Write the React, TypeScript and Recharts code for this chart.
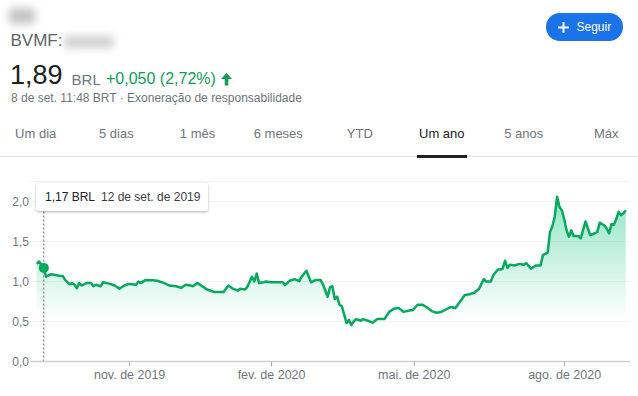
import {
  AreaChart,
  Area,
  XAxis,
  YAxis,
  CartesianGrid,
  ReferenceLine,
  ReferenceDot,
} from "recharts";

// trading-day index since 9 set. 2019 and closing price (BRL)
const days = [
  0, 1, 3, 4, 6, 8, 10, 11, 12, 14, 15, 16, 17, 18, 19, 21, 23, 24, 25, 27, 28, 31, 33, 35, 37, 39, 42, 43, 44, 46,
  49, 51, 54, 56, 59, 61, 63, 65, 66, 68, 70, 72, 75, 77, 79, 81, 83, 85, 86, 88, 89, 91, 92, 93, 94, 96, 97, 99,
  101, 104, 105, 107, 109, 111, 112, 114, 116, 118, 120, 121, 123, 124, 125, 126, 127, 128, 129, 131, 132, 133, 134,
  135, 137, 138, 140, 142, 144, 147, 149, 151, 153, 155, 158, 159, 161, 163, 165, 167, 169, 171, 173, 175, 177, 179,
  181, 183, 185, 187, 189, 190, 192, 193, 195, 196, 197, 198, 199, 200, 202, 204, 206, 207, 209, 211, 213, 214, 216,
  217, 218, 219, 220, 221, 222, 223, 224, 225, 226, 227, 229, 230, 232, 234, 235, 237, 238, 240, 241, 242, 243, 244,
  245, 246, 247, 248, 249,
];

const prices = [
  1.22, 1.25, 1.17, 1.06, 1.09, 1.08, 1.07, 1.07, 1.02, 0.965, 0.98, 0.96, 0.915, 0.98, 0.95, 0.98, 0.98, 0.94, 0.96,
  0.94, 0.99, 0.97, 0.95, 0.91, 0.95, 0.97, 0.96, 1.0, 0.98, 1.02, 1.015, 1.01, 0.98, 0.95, 0.94, 0.92, 0.96, 0.95,
  0.94, 0.98, 0.94, 0.9, 0.87, 0.87, 0.87, 0.95, 0.91, 0.885, 0.91, 0.9, 0.93, 1.06, 1.0, 1.1, 0.98, 0.99, 1.0, 0.99,
  0.99, 0.99, 0.955, 1.01, 1.03, 1.005, 1.06, 1.135, 0.99, 1.02, 1.02, 0.965, 0.81, 0.93, 0.94, 0.78, 0.81, 0.71,
  0.69, 0.48, 0.52, 0.455, 0.5, 0.53, 0.51, 0.53, 0.51, 0.485, 0.53, 0.53, 0.62, 0.66, 0.67, 0.62, 0.64, 0.64, 0.71,
  0.71, 0.675, 0.63, 0.61, 0.62, 0.65, 0.68, 0.67, 0.75, 0.83, 0.84, 0.86, 0.91, 1.03, 1.0, 1.0, 1.08, 1.15, 1.15,
  1.16, 1.26, 1.17, 1.21, 1.2, 1.22, 1.21, 1.23, 1.16, 1.2, 1.2, 1.33, 1.36, 1.62, 1.69, 1.81, 2.06, 1.93, 1.89, 1.78,
  1.64, 1.56, 1.64, 1.57, 1.57, 1.54, 1.75, 1.58, 1.59, 1.62, 1.735, 1.7, 1.66, 1.6, 1.72, 1.71, 1.78, 1.87, 1.83,
  1.85, 1.89,
];

const monthTicks = [39.3, 99.3, 159.6, 223.2];
const monthLabels = ["nov. de 2019", "fev. de 2020", "mai. de 2020", "ago. de 2020"];
const priceTicks = [0, 0.5, 1, 1.5, 2];

const tabs = ["Um dia", "5 dias", "1 mês", "6 meses", "YTD", "Um ano", "5 anos", "Máx"];
const tabCenters = [35.7, 116.3, 197.5, 278.3, 359.8, 441.8, 523.8, 606.3];
const activeTab = "Um ano";

const hover = { day: 3, price: 1.17, label: "1,17 BRL", date: "12 de set. de 2019" };

const data = days.map((d, i) => ({ day: d, price: prices[i] }));

const GREEN = "#0f9d58";
const LINE = "#05a95e";
const GRAY = "#70757a";
const FONT = "Arial, 'Liberation Sans', sans-serif";

const comma = (v: number) => v.toFixed(1).replace(".", ",");

function Text({ x, y, size, color, children, style }: any) {
  // y is the baseline
  return (
    <div
      style={{
        position: "absolute",
        left: x,
        top: y - 0.8465 * size,
        fontSize: size,
        lineHeight: `${size}px`,
        color,
        whiteSpace: "nowrap",
        ...style,
      }}
    >
      {children}
    </div>
  );
}

export default function App() {
  return (
    <div
      style={{
        position: "absolute",
        left: 0,
        top: 0,
        width: 638,
        height: 396,
        overflow: "hidden",
        background: "#fff",
        fontFamily: FONT,
      }}
    >
      {/* blurred name + ticker */}
      <div
        style={{
          position: "absolute",
          left: 9,
          top: 8,
          width: 26,
          height: 16,
          background: "#c4c4c4",
          filter: "blur(4px)",
          borderRadius: 4,
        }}
      />
      <Text x={10.5} y={46.7} size={17} color="#5f6368">BVMF:</Text>
      <div
        style={{
          position: "absolute",
          left: 64,
          top: 36,
          width: 50,
          height: 12,
          background: "#cfcfcf",
          filter: "blur(4px)",
          borderRadius: 4,
        }}
      />

      <Text x={10} y={85} size={27} color="#202124">1,89</Text>
      <Text x={71.6} y={85} size={15} color={GRAY}>BRL</Text>
      <Text x={106} y={85} size={16} color={GREEN}>+0,050 (2,72%)</Text>
      <svg style={{ position: "absolute", left: 220, top: 72 }} width={13} height={14}>
        <path d="M6.5 1 L12 7 L8.3 7 L8.3 13.5 L4.7 13.5 L4.7 7 L1 7 Z" fill={GREEN} />
      </svg>
      <Text x={11} y={101.7} size={12} color={GRAY}>
        8 de set. 11:48 BRT · Exoneração de responsabilidade
      </Text>

      {/* Seguir button */}
      <div
        style={{
          position: "absolute",
          left: 546,
          top: 13,
          width: 77,
          height: 28,
          borderRadius: 14,
          background: "#1a73e8",
        }}
      >
        <svg style={{ position: "absolute", left: 11.5, top: 8.5 }} width={11} height={11}>
          <path d="M5.5 0 V11 M0 5.5 H11" stroke="#fff" strokeWidth={2} />
        </svg>
        <div
          style={{
            position: "absolute",
            left: 30.5,
            top: 7,
            fontSize: 12,
            lineHeight: "14px",
            color: "#fff",
            fontWeight: 500,
          }}
        >
          Seguir
        </div>
      </div>

      {/* range tabs */}
      {tabs.map((t, i) => (
        <div
          key={t}
          style={{
            position: "absolute",
            left: tabCenters[i] - 50,
            width: 100,
            textAlign: "center",
            top: 138 - 0.8465 * 13,
            fontSize: 13,
            lineHeight: "13px",
            color: t === activeTab ? "#202124" : GRAY,
          }}
        >
          {t}
        </div>
      ))}
      <div style={{ position: "absolute", left: 0, top: 155.5, width: 638, height: 1, background: "#e3e3e3" }} />
      <div style={{ position: "absolute", left: 417, top: 155, width: 50, height: 3, background: "#202124" }} />

      {/* chart */}
      <div style={{ position: "absolute", left: 0, top: 176 }}>
        <AreaChart width={638} height={220} data={data} margin={{ top: 5.5, right: 8, bottom: 4.5, left: 0 }}>
          <defs>
            <linearGradient id="fadeGreen" gradientUnits="userSpaceOnUse" x1={0} y1={20} x2={0} y2={144}>
              <stop offset="0%" stopColor="#2ecc8f" stopOpacity={0.52} />
              <stop offset="100%" stopColor="#2ecc8f" stopOpacity={0} />
            </linearGradient>
          </defs>
          <CartesianGrid vertical={false} stroke="#f2f2f2" />
          <XAxis
            dataKey="day"
            type="number"
            domain={[0, 249]}
            ticks={monthTicks}
            tickFormatter={(v, i) => monthLabels[i]}
            padding={{ left: 6.7, right: 4.3 }}
            axisLine={{ stroke: "#cfcfcf", strokeWidth: 1.5 }}
            tickLine={{ stroke: "#a8a8a8" }}
            tickSize={5}
            tickMargin={4}
            height={30}
            tick={{ fill: GRAY, fontSize: 12.5, fontFamily: FONT }}
            interval={0}
          />
          <YAxis
            type="number"
            domain={[0, 2.25]}
            ticks={priceTicks}
            tickFormatter={comma}
            width={30}
            axisLine={false}
            tickLine={false}
            tickSize={0}
            tickMargin={1}
            tick={{ fill: GRAY, fontSize: 12, fontFamily: FONT }}
          />
          <Area
            type="linear"
            dataKey="price"
            stroke={LINE}
            strokeWidth={2.5}
            strokeLinejoin="round"
            fill="url(#fadeGreen)"
            fillOpacity={1}
            dot={false}
            activeDot={false}
            isAnimationActive={false}
          />
          <ReferenceLine
            segment={[
              { x: hover.day, y: 0 },
              { x: hover.day, y: 2 },
            ]}
            stroke="#666"
            strokeDasharray="2 2"
            strokeWidth={1}
          />
          <ReferenceDot x={hover.day} y={hover.price} r={5} fill={LINE} stroke="none" />
        </AreaChart>
      </div>

      {/* hover tooltip */}
      <div
        style={{
          position: "absolute",
          left: 36,
          top: 183,
          width: 172,
          height: 28,
          background: "#fff",
          borderRadius: 2,
          boxShadow: "0 1px 3px rgba(0,0,0,0.3)",
        }}
      >
        <Text x={9} y={17.7} size={12} color="#202124">{hover.label}</Text>
        <Text x={65} y={17.7} size={12} color="#3c4043">{hover.date}</Text>
      </div>
    </div>
  );
}
